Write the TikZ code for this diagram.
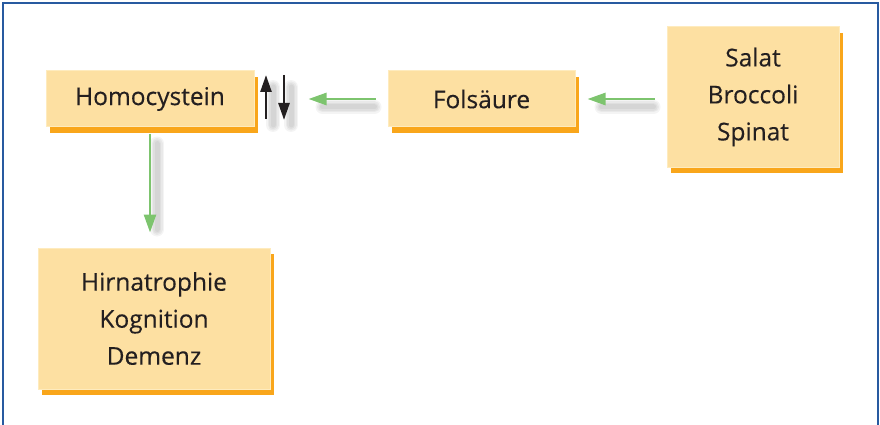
\documentclass[tikz,border=0pt]{standalone}
\usepackage{fontspec}
\setmainfont{Open Sans}
\newfontfamily\boxfont[BoldFont={Open Sans}, BoldFeatures={FakeBold=0.3}]{Open Sans}
\usetikzlibrary{arrows.meta,shadows}
\definecolor{boxfill}{RGB}{253,224,162}
\definecolor{boxedge}{RGB}{254,235,190}
\definecolor{shadeorange}{RGB}{249,166,27}
\definecolor{arrowgreen}{RGB}{125,196,110}
\definecolor{framblue}{RGB}{40,90,160}
\definecolor{textdark}{RGB}{35,31,32}
\tikzset{
  fbox/.style={draw=boxedge, line width=1pt, fill=boxfill, align=center,
    inner sep=0pt, text=textdark,
    font=\boxfont\bfseries\fontsize{24.5}{37}\selectfont,
    drop shadow={shadow xshift=4pt, shadow yshift=-6pt, fill=shadeorange, opacity=1}},
  garrow/.style={draw=arrowgreen, line width=2.6pt, -{Triangle[length=18pt,width=12pt]}},
  barrow/.style={draw=textdark, line width=2.6pt, -{Triangle[length=17pt,width=11pt]}},
  softshade/.style={draw=black, line cap=round, line width=#1, opacity=0.045},
}
\begin{document}
\begin{tikzpicture}[x=1pt,y=-1pt]
\useasboundingbox (0,0) rectangle (880,425);
% frame
\draw[framblue, line width=1.6pt] (3,425) -- (3,3) -- (878,3) -- (878,425);
% nodes
\node[fbox, minimum width=208pt, minimum height=56pt] (hc) at (150,99) {Homocystein};
\node[fbox, minimum width=187pt, minimum height=56pt] (fs) at (481.5,99) {Folsäure};
\node[fbox, minimum width=172pt, minimum height=140pt] (sal) at (753,97) {Salat\\Broccoli\\Spinat};
\node[fbox, minimum width=232pt, minimum height=141pt] (hirn) at (154,318.5) {Hirnatrophie\\Kognition\\Demenz};
% up/down symbol
\coordinate (ua) at (266,119);
\coordinate (ub) at (266,75);
\coordinate (da) at (284,75);
\coordinate (db) at (284,120);
% soft shadows of arrows
\foreach \w in {14pt,11pt,8pt,5pt}{
  \draw[softshade=\w] ([shift={(5,8)}]fs.west) ++(-18,0) -- ++(-52,0);
  \draw[softshade=\w] ([shift={(5,8)}]sal.west |- fs.east) ++(-18,0) -- ++(-52,0);
  \draw[softshade=\w] ([shift={(7,8)}]hc.south) ++(0,8) -- ++(0,86);
  \draw[softshade=\w] ([shift={(7,12)}]ub) -- ++(0,38);
  \draw[softshade=\w] ([shift={(7,12)}]da) -- ++(0,38);
}
% connectors
\draw[garrow, shorten <=12pt, shorten >=54pt] (fs.west) -- (hc.east);
\draw[garrow, shorten <=12pt, shorten >=12pt] (sal.west |- fs.east) -- (fs.east);
\draw[garrow, shorten <=6pt, shorten >=15pt] (hc.south) -- (hc.south |- hirn.north);
\draw[barrow] (ua) -- (ub);
\draw[barrow] (da) -- (db);
\end{tikzpicture}
\end{document}
